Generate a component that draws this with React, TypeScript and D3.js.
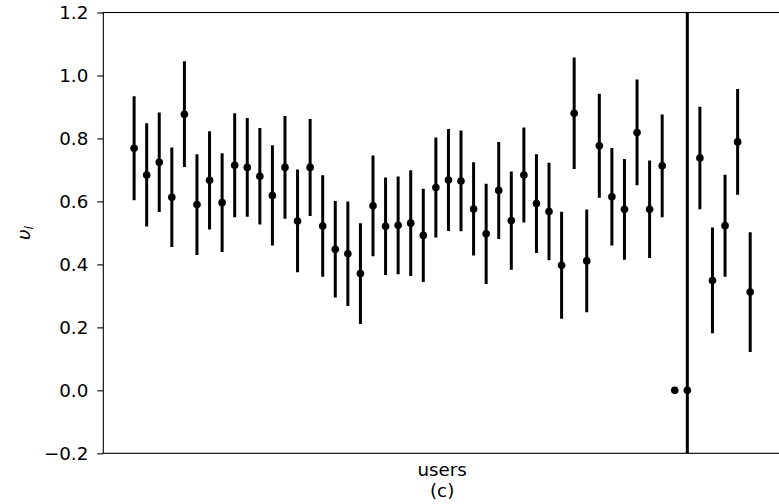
import React, { useEffect, useRef } from "react";
import * as d3 from "d3";

// estimated value and error per user
const users = d3.range(50);
const values = [
  0.769, 0.684, 0.724, 0.613, 0.877, 0.59, 0.667, 0.596, 0.715, 0.708,
  0.68, 0.619, 0.708, 0.538, 0.708, 0.522, 0.448, 0.434, 0.371, 0.586,
  0.521, 0.524, 0.531, 0.492, 0.644, 0.668, 0.665, 0.576, 0.497, 0.635,
  0.539, 0.684, 0.593, 0.568, 0.397, 0.88, 0.411, 0.777, 0.615, 0.575,
  0.819, 0.575, 0.713, 0.0, 0.0, 0.738, 0.349, 0.523, 0.789, 0.312,
];
const errors = [
  0.165, 0.164, 0.158, 0.158, 0.168, 0.16, 0.156, 0.157, 0.165, 0.157,
  0.153, 0.159, 0.163, 0.163, 0.154, 0.161, 0.153, 0.166, 0.16, 0.16,
  0.155, 0.155, 0.168, 0.148, 0.159, 0.162, 0.16, 0.148, 0.159, 0.154,
  0.156, 0.151, 0.157, 0.155, 0.17, 0.177, 0.163, 0.165, 0.155, 0.16,
  0.168, 0.155, 0.163, 0.0, 5.0, 0.163, 0.168, 0.162, 0.168, 0.19,
];
const yTicks = [-0.2, 0.0, 0.2, 0.4, 0.6, 0.8, 1.0, 1.2];

const App = () => {
  const ref = useRef(null);

  useEffect(() => {
    const width = 779;
    const height = 504;
    const left = 103.3, right = 781, top = 12.5, bottom = 453.3;
    const fs = "18.3px";

    const svg = d3.select(ref.current)
      .attr("width", width)
      .attr("height", height)
      .style("font-family", "'DejaVu Sans', sans-serif");
    svg.selectAll("*").remove();

    const x = d3.scaleLinear().domain([-2.45, 51.45]).range([left, right]);
    const y = d3.scaleLinear().domain([-0.2, 1.2]).range([bottom, top]);

    svg.append("defs").append("clipPath").attr("id", "plotclip")
      .append("rect")
      .attr("x", left).attr("y", top)
      .attr("width", right - left).attr("height", bottom - top);

    const plot = svg.append("g").attr("clip-path", "url(#plotclip)");

    plot.selectAll(".err")
      .data(users.filter(i => errors[i] > 0))
      .enter().append("line")
      .attr("x1", i => x(i)).attr("x2", i => x(i))
      .attr("y1", i => y(values[i] - errors[i]))
      .attr("y2", i => y(values[i] + errors[i]))
      .attr("stroke", "#000")
      .attr("stroke-width", 3);

    plot.selectAll(".dot")
      .data(users)
      .enter().append("circle")
      .attr("cx", i => x(i))
      .attr("cy", i => y(values[i]))
      .attr("r", 3.8)
      .attr("fill", "#000");

    // y axis
    const yAxis = svg.append("g")
      .attr("transform", `translate(${left},0)`)
      .call(d3.axisLeft(y).tickValues(yTicks).tickSize(6).tickPadding(9)
        .tickFormat(d => (d < 0 ? "\u22120.2" : d3.format(".1f")(d))));
    yAxis.select(".domain").remove();
    yAxis.selectAll("line").attr("stroke", "#000").attr("stroke-width", 1.1);
    yAxis.selectAll("text")
      .style("font-size", fs)
      .style("font-family", "'DejaVu Sans', sans-serif")
      .attr("fill", "#000");

    // spines
    svg.append("rect")
      .attr("x", left).attr("y", top)
      .attr("width", right - left).attr("height", bottom - top)
      .attr("fill", "none")
      .attr("stroke", "#000")
      .attr("stroke-width", 1.1);

    // x label, two lines
    const cx = (left + right) / 2;
    svg.append("text")
      .attr("x", cx).attr("y", 475.5)
      .attr("text-anchor", "middle")
      .style("font-size", fs)
      .text("users");
    svg.append("text")
      .attr("x", cx).attr("y", 496.5)
      .attr("text-anchor", "middle")
      .style("font-size", fs)
      .text("(c)");

    // y label
    const yl = svg.append("text")
      .attr("transform", `translate(30,${(top + bottom) / 2}) rotate(-90)`)
      .attr("text-anchor", "middle")
      .style("font-size", fs);
    yl.append("tspan").style("font-style", "italic").text("\u03c5");
    yl.append("tspan")
      .style("font-style", "italic")
      .style("font-size", "12.8px")
      .attr("dy", 3)
      .text("i");
  }, []);

  return (
    <div style={{ position: "absolute", left: 0, top: 0 }}>
      <svg ref={ref}></svg>
    </div>
  );
};

export default App;
